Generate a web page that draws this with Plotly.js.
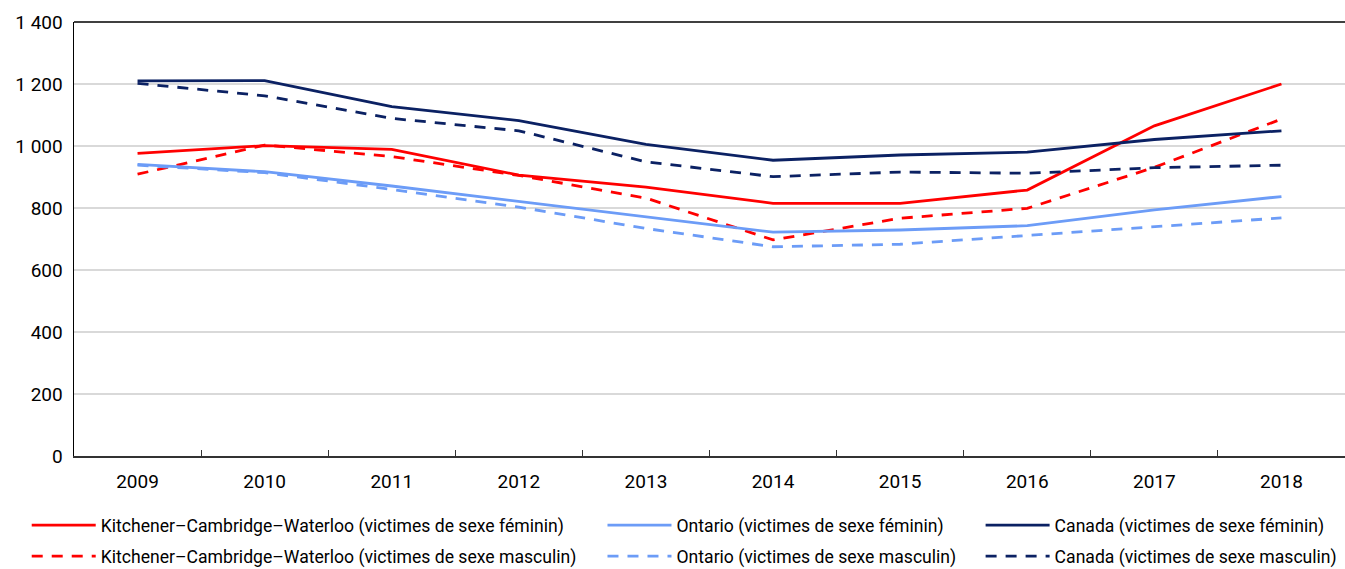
<!DOCTYPE html>
<html>
<head>
<meta charset="utf-8">
<script src="https://cdn.plot.ly/plotly-3.0.1.min.js"></script>
<style>html,body{margin:0;padding:0;background:#fff;}#chart{width:1345px;height:569px;}</style>
</head>
<body>
<div id="chart"></div>
<script>
const years = ['2009','2010','2011','2012','2013','2014','2015','2016','2017','2018'];
const kcwFemale = [976, 1001, 989, 906, 867, 815, 815, 858, 1065, 1200];
const kcwMale = [909, 1003, 966, 905, 832, 697, 767, 799, 931, 1087];
const ontFemale = [941, 917, 871, 821, 772, 722, 729, 743, 794, 837];
const ontMale = [938, 914, 860, 803, 734, 675, 683, 711, 740, 768];
const canFemale = [1210, 1211, 1127, 1082, 1005, 954, 971, 980, 1021, 1049];
const canMale = [1202, 1162, 1089, 1049, 949, 901, 916, 912, 930, 938];
const names = [
  'Kitchener–Cambridge–Waterloo (victimes de sexe féminin)',
  'Kitchener–Cambridge–Waterloo (victimes de sexe masculin)',
  'Ontario (victimes de sexe féminin)',
  'Ontario (victimes de sexe masculin)',
  'Canada (victimes de sexe féminin)',
  'Canada (victimes de sexe masculin)'
];
const RED = '#FF0000', LBLUE = '#6C9CF7', NAVY = '#0B2163';
const DASH = '11px,9px';
const W = 2.8;
function tr(y, name, color, dash, legend, grp) {
  return {x: years, y: y, name: name, type: 'scatter', mode: 'lines',
    line: {color: color, width: W, dash: dash}, legend: legend, legendgroup: grp,
    hoverinfo: 'x+y+name'};
}
const data = [
  tr(kcwFemale, names[0], RED, 'solid', 'legend', 'a'),
  tr(kcwMale, names[1], RED, DASH, 'legend', 'b'),
  tr(ontFemale, names[2], LBLUE, 'solid', 'legend2', 'c'),
  tr(ontMale, names[3], LBLUE, DASH, 'legend2', 'd'),
  tr(canFemale, names[4], NAVY, 'solid', 'legend3', 'e'),
  tr(canMale, names[5], NAVY, DASH, 'legend3', 'f')
];
const FONT = 'Roboto, Liberation Sans Narrow, sans-serif';
const legBase = {orientation: 'v', yanchor: 'top', y: -0.118, xanchor: 'left',
  font: {family: FONT, size: 17.6, color: '#000'}, itemwidth: 64, tracegroupgap: 5,
  bgcolor: 'rgba(0,0,0,0)', borderwidth: 0, itemclick: false};
const layout = {
  width: 1345, height: 569,
  margin: {l: 74, r: 0, t: 22, b: 113, autoexpand: false},
  separators: ', ',
  paper_bgcolor: '#fff', plot_bgcolor: '#fff',
  font: {family: FONT, size: 18, color: '#000'},
  showlegend: true,
  xaxis: {type: 'category', range: [-0.5, 9.5], showline: true, linecolor: '#333', linewidth: 1.5,
    mirror: false, ticks: 'inside', tickson: 'boundaries', ticklen: 6, tickcolor: '#333',
    showgrid: false, zeroline: false, tickfont: {family: FONT, size: 19, color: '#000'},
    ticklabelstandoff: 8, fixedrange: true},
  yaxis: {range: [0, 1400], dtick: 200, tickformat: ',d', showline: true, linecolor: '#000', linewidth: 1.5,
    showgrid: true, gridcolor: '#D9D9D9', gridwidth: 1.2, zeroline: false, ticks: '',
    tickfont: {family: FONT, size: 19, color: '#000'}, ticklabelstandoff: 6, fixedrange: true},
  shapes: [{type: 'line', xref: 'paper', yref: 'paper', x0: 0, x1: 1, y0: 1, y1: 1,
    line: {color: '#000', width: 1.5}}],
  legend: Object.assign({}, legBase, {x: -0.0372}),
  legend2: Object.assign({}, legBase, {x: 0.4158}),
  legend3: Object.assign({}, legBase, {x: 0.7133})
};
Plotly.newPlot('chart', data, layout, {displayModeBar: false, staticPlot: true});
</script>
</body>
</html>
